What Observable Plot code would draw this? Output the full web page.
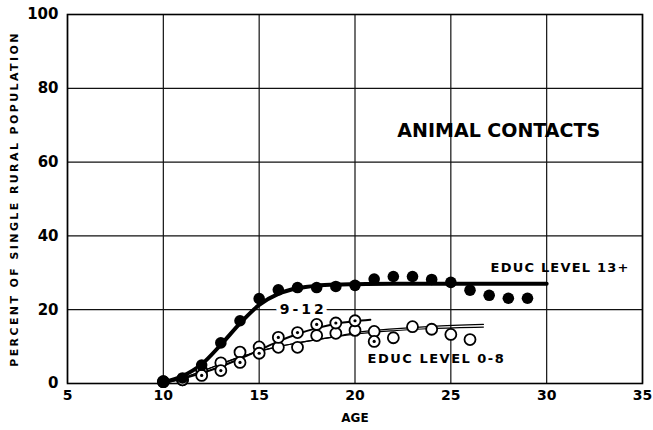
<!DOCTYPE html>
<html>
<head>
<meta charset="utf-8">
<script src="https://cdn.jsdelivr.net/npm/d3@7"></script>
<script src="https://cdn.jsdelivr.net/npm/@observablehq/plot@0.6"></script>
<style>
  html, body { margin: 0; padding: 0; background: #fff; }
  #chart svg { font-family: "DejaVu Sans", sans-serif; }
</style>
</head>
<body>
<div id="chart"></div>
<script>
// ---- data ----
const xTicks = [5, 10, 15, 20, 25, 30, 35];
const yTicks = [0, 20, 40, 60, 80, 100];

const ages13 = [10, 11, 12, 13, 14, 15, 16, 17, 18, 19, 20, 21, 22, 23, 24, 25, 26, 27, 28, 29];
const educ13 = [0.5, 1.5, 5, 11, 17, 23, 25.4, 26, 26, 26.3, 26.6, 28.3, 29, 29, 28.2, 27.4, 25.3, 23.9, 23.1, 23.1];

const ages912 = [10, 11, 12, 13, 14, 15, 16, 17, 18, 19, 20, 21];
const educ912 = [0.5, 1, 2.2, 3.5, 5.7, 8.2, 12.5, 13.8, 16, 16.4, 17, 11.4];

const ages08 = [10, 11, 12, 13, 14, 15, 16, 17, 18, 19, 20, 21, 22, 23, 24, 25, 26];
const educ08 = [0.5, 1, 3.5, 5.6, 8.5, 9.9, 9.8, 9.8, 13, 13.6, 14.4, 14.1, 12.4, 15.4, 14.7, 13.3, 11.9];

// fitted (smoothed) curves
const fit13Ages = [10, 11, 12, 13, 14, 15, 16, 17, 18, 19, 20, 22, 25, 30];
const fit13 = [0.3, 2, 5.2, 10.5, 16.3, 21.3, 24.3, 25.8, 26.5, 26.8, 26.9, 27, 27, 27];

const fit912Ages = [10, 11, 12, 13, 14, 15, 16, 17, 18, 19, 20, 20.8];
const fit912 = [0.3, 1.3, 2.8, 4.6, 6.7, 9, 11.4, 13.4, 15, 16.2, 16.9, 17.3];

const fit08Ages = [10, 11, 12, 13, 14, 15, 16, 17, 18, 19, 20, 22, 24, 26.7];
const fit08a = [0.3, 1.5, 3.3, 5.3, 7.2, 8.7, 10, 11, 11.9, 12.7, 13.4, 14.3, 14.9, 15.3];
const fit08b = [0.3, 1.5, 3.3, 5.3, 7.2, 8.7, 10, 11, 11.9, 12.7, 13.8, 14.8, 15.5, 16];

const titleText = "ANIMAL CONTACTS";
const label13 = "EDUC LEVEL 13+";
const label08 = "EDUC LEVEL 0-8";
const label912 = "9-12";
const xLabel = "AGE";
const yLabel = "PERCENT OF SINGLE RURAL POPULATION";

const rows = (xs, ys) => xs.map((x, i) => ({x, y: ys[i]}));

const chart = Plot.plot({
  width: 653,
  height: 430,
  marginLeft: 67,
  marginRight: 11,
  marginTop: 14,
  marginBottom: 47,
  x: {domain: [5, 35], ticks: xTicks},
  y: {domain: [0, 100], ticks: yTicks},
  marks: [
    Plot.gridX(xTicks, {stroke: "#111", strokeOpacity: 1, strokeWidth: 1.2}),
    Plot.gridY(yTicks, {stroke: "#111", strokeOpacity: 1, strokeWidth: 1.2}),
    Plot.frame({stroke: "#000", strokeWidth: 1.6}),
    Plot.axisX(xTicks, {tickSize: 0, tickPadding: 7, fontSize: 14, fontWeight: "bold", label: null}),
    Plot.axisY(yTicks, {tickSize: 0, tickPadding: 9, fontSize: 15, fontWeight: "bold", label: null}),
    Plot.text([xLabel], {frameAnchor: "bottom", dy: 38, fontSize: 12, fontWeight: "bold"}),
    Plot.text([yLabel], {frameAnchor: "left", textAnchor: "middle", rotate: -90, dx: -53, fontSize: 11, fontWeight: "bold"}),
    // "9-12" label sits on the 20 gridline, breaking it
    Plot.text([label912], {x: 17.3, y: 20, fontSize: 14, fontWeight: "bold", fill: "#000", stroke: "#fff", strokeWidth: 9, paintOrder: "stroke"}),
    // fit curves
    Plot.line(rows(fit08Ages, fit08a), {x: "x", y: "y", curve: "monotone-x", stroke: "#000", strokeWidth: 1.2}),
    Plot.line(rows(fit08Ages, fit08b), {x: "x", y: "y", curve: "monotone-x", stroke: "#000", strokeWidth: 1.2}),
    Plot.line(rows(fit912Ages, fit912), {x: "x", y: "y", curve: "monotone-x", stroke: "#000", strokeWidth: 2}),
    Plot.line(rows(fit13Ages, fit13), {x: "x", y: "y", curve: "monotone-x", stroke: "#000", strokeWidth: 4}),
    // dots
    Plot.dot(rows(ages08, educ08), {x: "x", y: "y", r: 5.5, fill: "#fff", stroke: "#000", strokeWidth: 1.8}),
    Plot.dot(rows(ages912, educ912), {x: "x", y: "y", r: 5.5, fill: "#fff", stroke: "#000", strokeWidth: 1.8}),
    Plot.dot(rows(ages912, educ912), {x: "x", y: "y", r: 1.6, fill: "#000"}),
    Plot.dot(rows(ages13, educ13), {x: "x", y: "y", r: 5.8, fill: "#000"}),
    // annotations
    Plot.text([titleText], {x: 27.5, y: 68.5, fontSize: 19, fontWeight: "bold", fill: "#000"}),
    Plot.text([label13], {x: 30.7, y: 31.3, fontSize: 13, fontWeight: "bold", fill: "#000"}),
    Plot.text([label08], {x: 24.25, y: 6.8, fontSize: 13, fontWeight: "bold", fill: "#000"})
  ]
});
// letter spacing to match the hand-lettered widths
const spacing = new Map([[yLabel, "2.4px"], [label13, "1.2px"], [label08, "1.5px"], [label912, "3px"]]);
d3.select(chart).selectAll("text").each(function() {
  const s = spacing.get(this.textContent);
  if (s) this.setAttribute("letter-spacing", s);
});
document.getElementById("chart").appendChild(chart);
</script>
</body>
</html>
